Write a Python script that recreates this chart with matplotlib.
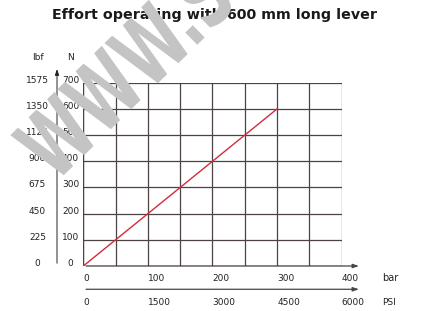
import numpy as np
import matplotlib.pyplot as plt
from matplotlib.textpath import TextPath
from matplotlib.patches import PathPatch
from matplotlib.font_manager import FontProperties
from matplotlib.transforms import Affine2D

# Data
pressure_bar = [0, 300]
force_n = [0, 600]

bar_ticks = [0, 100, 200, 300, 400]
psi_labels = ["0", "1500", "3000", "4500", "6000"]
n_ticks = [0, 100, 200, 300, 400, 500, 600, 700]
lbf_labels = ["0", "225", "450", "675", "900", "1125", "1350", "1575"]

grid_col = "#4d4242"
txt_col = "#222222"
fs = 6.5

fig = plt.figure(figsize=(4.27, 3.11), dpi=100)
ax = fig.add_axes([83.3 / 427, 45 / 311, 258.4 / 427, 183.3 / 311])
ax.set_xlim(0, 400)
ax.set_ylim(0, 700)
ax.set_xticks(range(0, 401, 50))
ax.set_yticks(n_ticks)
ax.grid(True, color=grid_col, linewidth=0.9)
ax.tick_params(length=0, labelbottom=False, labelleft=False)
for s in ax.spines.values():
    s.set_visible(False)
ax.axvline(0, color=grid_col, linewidth=0.9)

ax.plot(pressure_bar, force_n, color="#d42a3c", linewidth=1.0, zorder=3)

# axis arrows
arrow = dict(arrowstyle="-|>,head_length=0.35,head_width=0.12", color=grid_col, lw=0.9)
ax.annotate("", xy=(431, 0), xytext=(0, 0), xycoords=("data", "axes fraction"),
            arrowprops=arrow, annotation_clip=False)
ax.annotate("", xy=(431, -0.127), xytext=(0, -0.127), xycoords=("data", "axes fraction"),
            arrowprops=arrow, annotation_clip=False)
ax.annotate("", xy=(-40.7, 1.09), xytext=(-40.7, 0), xycoords=("data", "axes fraction"),
            arrowprops=dict(arrowstyle="-|>,head_length=0.35,head_width=0.12",
                            color=txt_col, lw=0.7), annotation_clip=False)

tr = ax.get_xaxis_transform()
for v in bar_ticks:
    ax.text(v, -0.067, str(v), transform=tr, ha="left", va="center", fontsize=fs, color=txt_col)
for v, lab in zip(bar_ticks, psi_labels):
    ax.text(v, -0.198, lab, transform=tr, ha="left", va="center", fontsize=fs, color=txt_col)
ax.text(463, -0.067, "bar", transform=tr, ha="left", va="center", fontsize=fs + 0.5, color=txt_col)
ax.text(463, -0.198, "PSI", transform=tr, ha="left", va="center", fontsize=fs, color=txt_col)

for v, lab in zip(n_ticks, lbf_labels):
    ax.text(-19.8, v, str(v), ha="center", va="baseline", fontsize=fs, color=txt_col, clip_on=False)
    ax.text(-70.9, v, lab, ha="center", va="baseline", fontsize=fs, color=txt_col, clip_on=False)
ax.text(-19.8, 1.135, "N", transform=tr, ha="center", va="center", fontsize=fs, color=txt_col)
ax.text(-70.9, 1.135, "lbf", transform=tr, ha="center", va="center", fontsize=fs, color=txt_col)

fig.text(0.503, 0.952, "Effort operating with 600 mm long lever", ha="center", va="center",
         fontsize=10.3, fontweight="bold", color="#1a1a1a")

# watermark: fit text so the first W's bottom-left point and the dot land where they are
prop = FontProperties(family="DejaVu Sans", weight="bold")
size = 100
wm = TextPath((0, 0), "WWW.S", size=size, prop=prop)
w1 = TextPath((0, 0), "W", size=size, prop=prop)
v = w1.vertices
bot = v[v[:, 1] < 1]
p1 = np.array([bot[bot[:, 0] < w1.get_extents().x1 / 2][:, 0].mean(), 0.0])
www_x1 = TextPath((0, 0), "WWW", size=size, prop=prop).get_extents().x1
dv = TextPath((0, 0), "WWW.", size=size, prop=prop).vertices
dot = dv[dv[:, 0] > www_x1 + 0.5]
p2 = np.array([(dot[:, 0].min() + dot[:, 0].max()) / 2, (dot[:, 1].min() + dot[:, 1].max()) / 2])
cap = w1.get_extents().y1

q1 = np.array([64.0, 311 - 175.0])
q2 = np.array([195.0, 311 - 35.0])
sy = 66.0 / cap
w = q2 - q1
d = p2 - p1
sx = np.sqrt(w @ w - (sy * d[1]) ** 2) / d[0]
theta = np.degrees(np.arctan2(w[1], w[0]) - np.arctan2(sy * d[1], sx * d[0]))
base = Affine2D().scale(sx, sy).rotate_deg(theta)
off = q1 - base.transform(p1)
wm_tr = (base.translate(off[0], off[1])
         + Affine2D().scale(1 / 427, 1 / 311) + fig.transFigure)
fig.patches.append(PathPatch(wm, transform=wm_tr, facecolor="#c4c4c4", edgecolor="none",
                             zorder=10, figure=fig))

fig.savefig("out.png", dpi=100)
